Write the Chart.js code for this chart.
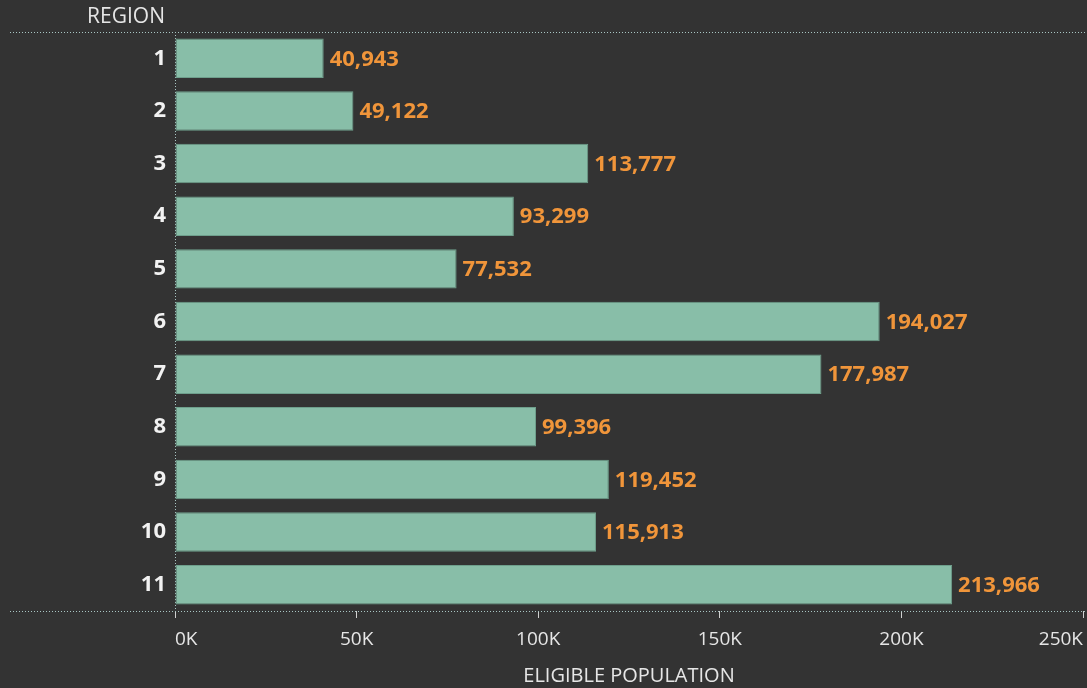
<!DOCTYPE html>
<html>
<head>
<meta charset="utf-8">
<script src="https://cdn.jsdelivr.net/npm/chart.js@4.4.1/dist/chart.umd.min.js"></script>
<style>
  html, body { margin: 0; padding: 0; background: #333333; }
  #wrap { width: 1087px; height: 688px; position: relative; }
</style>
</head>
<body>
<div id="wrap"><canvas id="regionChart"></canvas></div>
<script>
// Data
const regions = ['1', '2', '3', '4', '5', '6', '7', '8', '9', '10', '11'];
const eligiblePopulation = [40943, 49122, 113777, 93299, 77532, 194027, 177987, 99396, 119452, 115913, 213966];
const xTicks = [0, 50000, 100000, 150000, 200000, 250000];

const FONT = '"Open Sans", sans-serif';
const DOT_COLOR = '#a9c6c4';

// draws the dotted rules, the REGION header and the value labels
const decorations = {
    id: 'decorations',
    beforeDatasetsDraw(chart) {
        const { ctx, chartArea } = chart;
        ctx.save();
        ctx.strokeStyle = DOT_COLOR;
        ctx.lineWidth = 1;
        ctx.setLineDash([1, 2]);
        // top and bottom dotted rules
        [chartArea.top + 0.5, chartArea.bottom + 0.5].forEach(y => {
            ctx.beginPath();
            ctx.moveTo(10, y);
            ctx.lineTo(chart.width, y);
            ctx.stroke();
        });
        // vertical dotted axis line
        ctx.beginPath();
        ctx.moveTo(chartArea.left + 0.5, chartArea.top);
        ctx.lineTo(chartArea.left + 0.5, chartArea.bottom);
        ctx.stroke();
        ctx.restore();
    },
    afterDatasetsDraw(chart) {
        const { ctx, chartArea } = chart;
        ctx.save();
        // header above the category labels
        ctx.font = '21px ' + FONT;
        ctx.fillStyle = '#e6e6e6';
        ctx.textAlign = 'right';
        ctx.textBaseline = 'middle';
        ctx.fillText('REGION', chartArea.left - 10, 17);

        // value labels at the bar ends
        ctx.font = 'bold 22px ' + FONT;
        ctx.fillStyle = '#f0953a';
        ctx.textAlign = 'left';
        const meta = chart.getDatasetMeta(0);
        meta.data.forEach((bar, i) => {
            ctx.fillText(eligiblePopulation[i].toLocaleString('en-US'), bar.x + 6, bar.y + 1);
        });
        ctx.restore();
    }
};

const ctx = document.getElementById('regionChart').getContext('2d');

new Chart(ctx, {
    type: 'bar',
    data: {
        labels: regions,
        datasets: [{
            label: 'Eligible Population',
            data: eligiblePopulation,
            backgroundColor: '#88bea8',
            borderColor: '#6e9f8c',
            borderWidth: 1,
            borderSkipped: false,
            barPercentage: 0.75,
            categoryPercentage: 1
        }]
    },
    options: {
        indexAxis: 'y',
        responsive: true,
        maintainAspectRatio: false,
        animation: false,
        layout: {
            padding: { top: 32, right: 4, left: 0, bottom: 0 }
        },
        plugins: {
            legend: { display: false },
            tooltip: { enabled: false }
        },
        scales: {
            x: {
                min: 0,
                max: 250000,
                afterBuildTicks(scale) {
                    scale.ticks = xTicks.map(v => ({ value: v }));
                },
                afterFit(scale) {
                    scale.height = 77;
                    scale.paddingLeft = 0;
                    scale.paddingRight = 0;
                },
                ticks: {
                    color: '#e6e6e6',
                    align: 'inner',
                    padding: 10,
                    font: { family: FONT, size: 19 },
                    callback: v => (v / 1000) + 'K'
                },
                grid: {
                    drawOnChartArea: false,
                    tickLength: 7,
                    tickColor: '#d0d0d0',
                    color: '#d0d0d0'
                },
                border: { display: false },
                title: {
                    display: true,
                    text: 'ELIGIBLE POPULATION',
                    color: '#e6e6e6',
                    font: { family: FONT, size: 20 },
                    padding: { top: 0, bottom: 0 }
                }
            },
            y: {
                afterFit(scale) {
                    scale.width = 175;
                },
                ticks: {
                    color: '#f2f2f2',
                    padding: 9,
                    font: { family: FONT, size: 22, weight: 'bold' }
                },
                grid: { display: false, drawTicks: false, tickLength: 0 },
                border: { display: false }
            }
        }
    },
    plugins: [decorations]
});
</script>
</body>
</html>
